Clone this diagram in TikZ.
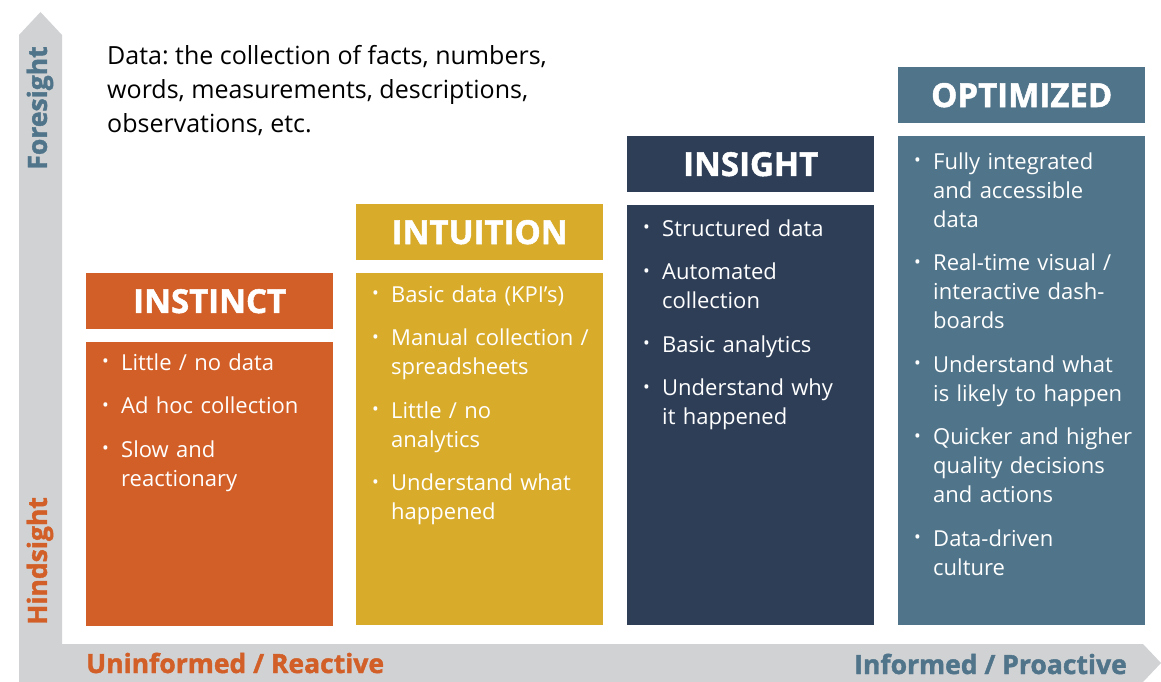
\documentclass[tikz,border=0pt]{standalone}
\usepackage{fontspec}
\setmainfont{Open Sans}
\newfontfamily\hdrfont{Open Sans}[BoldFeatures={FakeBold=1.5}]
\usetikzlibrary{positioning}
\definecolor{axisgray}{HTML}{D1D2D4}
\definecolor{instinctc}{HTML}{D25F27}
\definecolor{intuitionc}{HTML}{D8AB2A}
\definecolor{insightc}{HTML}{2E3E57}
\definecolor{optimizedc}{HTML}{507489}
\newcommand\itm{\par\noindent\hangindent=19pt\hangafter=1%
  \makebox[19pt][l]{\raisebox{2.5pt}{\fontsize{18}{18}\selectfont •}}}
\tikzset{ hdr/.style = { rectangle
                       , fill = #1
                       , text = white
                       , font = \hdrfont\fontsize{33}{38}\selectfont\bfseries
                       , minimum width  = 247
                       , minimum height = 56
                       , inner sep      = 0pt
                       , anchor         = north west
                       },
          body/.style = { rectangle
                        , fill = #1
                        , minimum width = 247
                        , inner sep     = 0pt
                        },
          items/.style = { anchor     = north west
                         , text       = white
                         , text width = 240
                         , align      = left
                         , inner xsep = 16
                         , inner ysep = 0
                         , yshift     = 15
                         , font = \fontsize{22}{29}\selectfont\setlength{\parskip}{14.5pt}
                         },
          axl/.style = { font = \hdrfont\fontsize{26.5}{30}\selectfont\bfseries
                       , inner sep = 0pt
                       }
        }
\begin{document}
\frenchspacing
\begin{tikzpicture}[x=1pt, y=-1pt]
    \useasboundingbox (0,0) rectangle (1161,682);
    % axes
    \fill[axisgray] (19,682) -- (19,35) -- (40.5,12) -- (62,35) -- (62,644)
        -- (1143,644) -- (1161,663) -- (1143,682) -- cycle;
    \node[axl, text=optimizedc, rotate=90] (fore) at (40,108) {Foresight};
    \node[axl, text=instinctc, rotate=90] (hind) at (40,561) {Hindsight};
    \node[axl, text=instinctc, anchor=west] (unin) at (86,663) {Uninformed / Reactive};
    \node[axl, text=optimizedc, anchor=east] (info) at (1127,664) {Informed / Proactive};
    % definition
    \node[anchor=north west, inner sep=0pt, align=left,
          font=\fontsize{25}{34}\selectfont] (def) at (107,45)
        {Data: the collection of facts, numbers,\\
         words, measurements, descriptions,\\
         observations, etc.};
    % stages
    \node[hdr=instinctc] (h1) at (86,273) {INSTINCT};
    \node[body=instinctc, minimum height=284, below=12pt of h1] (b1) {};
    \node[items] (t1) at (b1.north west)
        {\itm Little / no data
         \itm Ad hoc collection
         \itm Slow and\newline reactionary\par};
    \node[hdr=intuitionc] (h2) at (356,204) {INTUITION};
    \node[body=intuitionc, minimum height=352, below=12pt of h2] (b2) {};
    \node[items, yshift=-1] (t2) at (b2.north west)
        {\itm Basic data (KPI’s)
         \itm Manual collection /\newline spreadsheets
         \itm Little / no\newline analytics
         \itm Understand what\newline happened\par};
    \node[hdr=insightc] (h3) at (627,136) {INSIGHT};
    \node[body=insightc, minimum height=420, below=12pt of h3] (b3) {};
    \node[items, yshift=-3] (t3) at (b3.north west)
        {\itm Structured data
         \itm Automated\newline collection
         \itm Basic analytics
         \itm Understand why\newline it happened\par};
    \node[hdr=optimizedc] (h4) at (898,67) {OPTIMIZED};
    \node[body=optimizedc, minimum height=489, below=12pt of h4] (b4) {};
    \node[items, yshift=-5] (t4) at (b4.north west)
        {\itm Fully integrated\newline and accessible\newline data
         \itm Real-time visual /\newline interactive dash-\newline boards
         \itm Understand what\newline is likely to happen
         \itm Quicker and higher\newline quality decisions\newline and actions
         \itm Data-driven\newline culture\par};
\end{tikzpicture}
\end{document}
